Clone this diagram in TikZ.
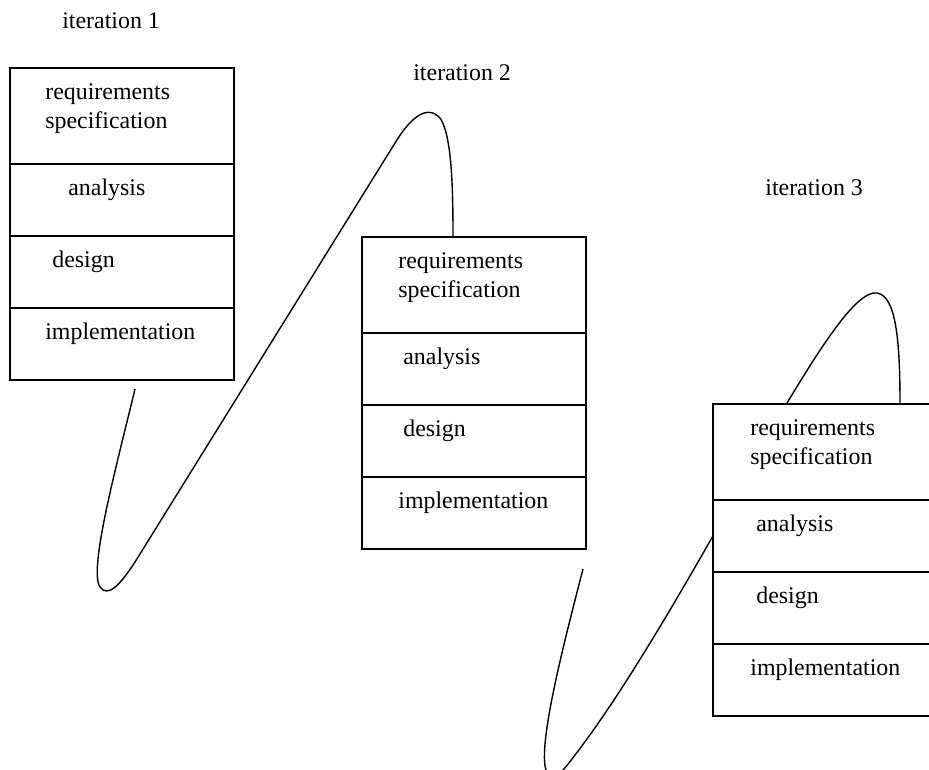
\documentclass[tikz,border=0pt]{standalone}
\usepackage{fontspec}
\setmainfont{Liberation Serif}
\usetikzlibrary{positioning,calc,backgrounds}

\begin{document}
\begin{tikzpicture}[x=0.02cm,y=-0.02cm,
    stagebox/.style={draw,line width=0.9pt,fill=white,outer sep=0pt,inner sep=0pt,
      minimum width=4.48cm,minimum height=1.44cm},
    reqbox/.style={stagebox,minimum height=1.92cm},
    lbl/.style={inner sep=0pt,anchor=base west,align=left,font=\fontsize{13.6}{16}\selectfont},
    sweep/.style={line width=0.8pt}]
  \useasboundingbox (0,0) rectangle (929,769);
  \clip (0,0) rectangle (929,769);
  % --- iteration labels ---
  \node[lbl] (it1) at (62,28) {iteration 1};
  \node[lbl] (it2) at (413,80) {iteration 2};
  \node[lbl] (it3) at (765,195) {iteration 3};
  % --- boxes: index / left / top / text offsets (req+impl, analysis, design)
  \foreach \i/\x/\y/\a/\b/\c in {1/10/68/35/58/42,2/362/237/36/41/41,3/713/404/37/43/43} {
    \node[reqbox,anchor=north west] (req\i) at (\x,\y) {};
    \node[stagebox,below=0pt of req\i] (ana\i) {};
    \node[stagebox,below=0pt of ana\i] (des\i) {};
    \node[stagebox,below=0pt of des\i] (imp\i) {};
    % base of a two-line node is its last line
    \node[lbl] (treq\i) at ($(req\i.north west)+(\a,60)$) {requirements\\specification};
    \node[lbl] (tana\i) at ($(ana\i.north west)+(\b,32)$) {analysis};
    \node[lbl] (tdes\i) at ($(des\i.north west)+(\c,32)$) {design};
    \node[lbl] (timp\i) at ($(imp\i.north west)+(\a,32)$) {implementation};
  }
  % --- the sweeps from one iteration to the next (behind the boxes)
  \begin{scope}[on background layer]
    \coordinate (s1) at (135,389);
    \coordinate (s2) at (583,569);
    \draw[sweep] (s1) .. controls (118,460) and (88,570) .. (100,587)
      .. controls (108,598) and (120,585) .. (135,562) -- (395,143)
      .. controls (412,115) and (428,105) .. (440,118)
      .. controls (452,135) and (453,190) .. ($(req2.north west)+(91,0)$);
    \draw[sweep] (s2) .. controls (562,650) and (538,745) .. (546,770)
      .. controls (551,785) and (560,775) .. (575,755)
      .. controls (625,690) and (690,580) .. (787,403)
      .. controls (825,340) and (858,290) .. (877,293)
      .. controls (896,296) and (900,340) .. ($(req3.north west)+(187,0)$);
  \end{scope}
\end{tikzpicture}
\end{document}
